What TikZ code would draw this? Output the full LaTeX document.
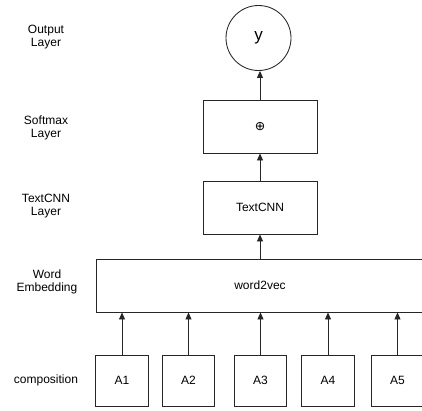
\documentclass[tikz,border=0pt]{standalone}
\usepackage{fontspec}
\setmainfont{Liberation Sans}
\newfontfamily\symfont{DejaVu Sans}
\usetikzlibrary{arrows.meta}
\begin{document}
\begin{tikzpicture}[x=1pt,y=-1pt,
  every node/.style={font=\fontsize{12}{12.5}\selectfont, text=black},
  box/.style={draw=black!85, line width=0.85pt, rectangle, inner sep=0pt},
  lbl/.style={align=center},
  arr/.style={draw=black!85, line width=0.85pt, -{Triangle[width=6pt,length=7pt]}}]
\useasboundingbox (0,0) rectangle (422,410);
% left labels
\node[lbl] (lout) at (46,37) {Output\\Layer};
\node[lbl] (lsoft) at (46,128) {Softmax\\Layer};
\node[lbl] (lcnn) at (46,206) {TextCNN\\Layer};
\node[lbl] (lemb) at (47,282) {Word\\Embedding};
\node[lbl] (lcomp) at (46,380) {composition};
% main nodes
\node[draw=black!85, line width=0.85pt, circle, minimum size=65pt, inner sep=0pt,
      font=\fontsize{17}{17}\selectfont] (out) at (258.5,38) {y};
\node[box, minimum width=114pt, minimum height=53pt] (soft) at (260,126.5) {\symfont\fontsize{12.5}{12.5}\selectfont ⊕};
\node[box, minimum width=114pt, minimum height=53pt] (cnn) at (260,207.5) {TextCNN};
\node[box, minimum width=328pt, minimum height=53pt] (w2v) at (260,285.5) {word2vec};
\node[box, minimum width=52.5pt, minimum height=51pt] (a1) at (122,380.5) {A1};
\node[box, minimum width=52.5pt, minimum height=51pt] (a2) at (188.5,380.5) {A2};
\node[box, minimum width=52.5pt, minimum height=51pt] (a3) at (260.5,380.5) {A3};
\node[box, minimum width=52.5pt, minimum height=51pt] (a4) at (328,380.5) {A4};
\node[box, minimum width=52.5pt, minimum height=51pt] (a5) at (397.5,380.5) {A5};
% connectors
\draw[arr] (soft.north) -- (soft.north |- out.south);
\draw[arr] (cnn.north) -- (soft.south);
\draw[arr] (cnn.north |- w2v.north) -- (cnn.south);
\foreach \n in {a1,a2,a3,a4,a5}{
  \draw[arr] (\n.north) -- (\n.north |- w2v.south);
}
\end{tikzpicture}
\end{document}
